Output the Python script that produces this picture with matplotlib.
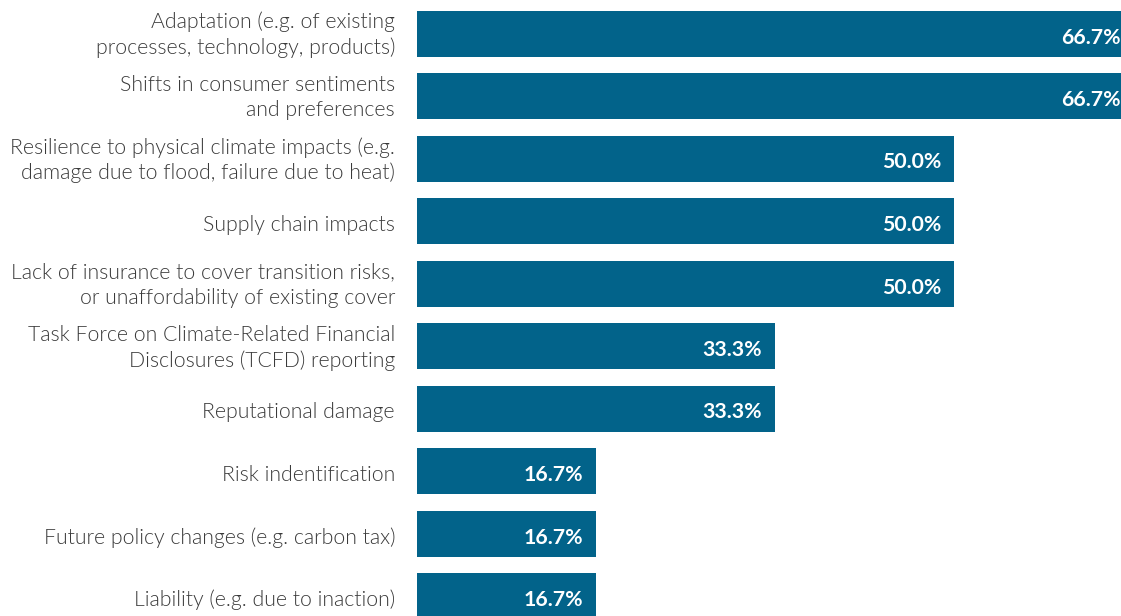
import matplotlib
matplotlib.use("Agg")
import matplotlib.pyplot as plt

categories = [
    "Adaptation (e.g. of existing\nprocesses, technology, products)",
    "Shifts in consumer sentiments\nand preferences",
    "Resilience to physical climate impacts (e.g.\ndamage due to flood, failure due to heat)",
    "Supply chain impacts",
    "Lack of insurance to cover transition risks,\nor unaffordability of existing cover",
    "Task Force on Climate-Related Financial\nDisclosures (TCFD) reporting",
    "Reputational damage",
    "Risk indentification",
    "Future policy changes (e.g. carbon tax)",
    "Liability (e.g. due to inaction)",
]
values = [66.7, 66.7, 50.0, 50.0, 50.0, 33.3, 33.3, 16.7, 16.7, 16.7]

BAR_COLOR = "#02638A"
W, H = 1121, 616

fig = plt.figure(figsize=(W / 100, H / 100), dpi=100)
fig.patch.set_facecolor("white")
ax = fig.add_axes([417 / W, 0, (W - 417) / W, 1])

px_per_unit = (954 - 417) / 50.0
ax.set_xlim(0, (W - 417) / px_per_unit)
pitch = 62.5
top = 33.5
ax.set_ylim((H - top) / pitch, -top / pitch)

pos = list(range(len(categories)))
ax.barh(pos, values, height=46 / pitch, color=BAR_COLOR, clip_on=True)

for y, v, lab in zip(pos, values, categories):
    ax.annotate(f"{v:.1f}%", xy=(v, y), xytext=(-13, -2), textcoords="offset pixels",
                ha="right", va="center_baseline", color="white", fontsize=15.3,
                fontfamily="Lato", fontweight="bold", annotation_clip=False)
    dy = 3 if "\n" in lab else -2
    ax.annotate(lab, xy=(0, y), xytext=(-22, dy), textcoords="offset pixels",
                ha="right", va="center_baseline", color="#3a3a3a", fontsize=15.3,
                fontfamily="Lato", fontweight=300, linespacing=1.32,
                multialignment="right", annotation_clip=False)

ax.axis("off")
fig.savefig("out.png", dpi=100, facecolor="white")
